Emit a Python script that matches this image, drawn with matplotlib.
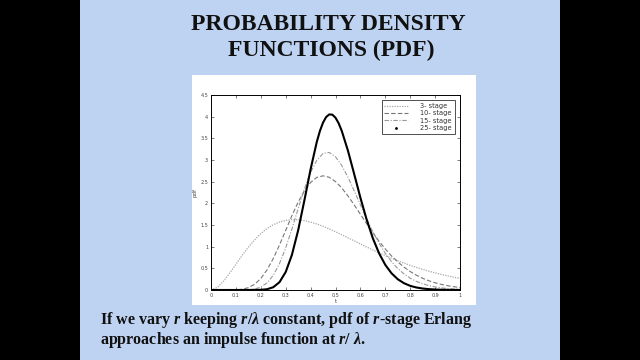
import matplotlib
matplotlib.use("Agg")
import matplotlib.pyplot as plt
from matplotlib.patches import Rectangle
from matplotlib.lines import Line2D

# ---- data (Erlang pdfs) ----
t = [0.0, 0.025, 0.05, 0.075, 0.1, 0.125, 0.15, 0.175, 0.2, 0.225, 0.25, 0.275,
     0.3, 0.325, 0.35, 0.375, 0.4, 0.425, 0.45, 0.475, 0.5, 0.525, 0.55, 0.575,
     0.6, 0.625, 0.65, 0.675, 0.7, 0.725, 0.75, 0.775, 0.8, 0.825, 0.85, 0.875,
     0.9, 0.925, 0.95, 0.975, 1.0]
stage3 = [0.0, 0.058, 0.200, 0.387, 0.593, 0.797, 0.988, 1.157, 1.301, 1.417, 1.506,
          1.568, 1.607, 1.623, 1.620, 1.601, 1.568, 1.523, 1.470, 1.410, 1.344, 1.276,
          1.205, 1.134, 1.062, 0.992, 0.924, 0.857, 0.794, 0.733, 0.675, 0.620, 0.569,
          0.521, 0.476, 0.434, 0.395, 0.359, 0.326, 0.296, 0.268]
stage10 = [0.0, 0.0, 0.00002, 0.0005, 0.0038, 0.0173, 0.054, 0.131, 0.265, 0.464,
           0.725, 1.038, 1.377, 1.716, 2.028, 2.289, 2.482, 2.599, 2.635, 2.601, 2.502,
           2.356, 2.171, 1.964, 1.747, 1.530, 1.320, 1.125, 0.947, 0.787, 0.649, 0.528,
           0.426, 0.341, 0.271, 0.213, 0.167, 0.129, 0.100, 0.076, 0.058]
stage15 = [0.0, 0.0, 0.0, 0.0, 0.0001, 0.0009, 0.0053, 0.0218, 0.067, 0.164, 0.339,
           0.608, 0.971, 1.408, 1.878, 2.330, 2.716, 2.995, 3.152, 3.174, 3.074, 2.872,
           2.606, 2.291, 1.966, 1.644, 1.344, 1.078, 0.846, 0.653, 0.496, 0.371, 0.273,
           0.198, 0.143, 0.101, 0.071, 0.049, 0.034, 0.023, 0.015]
t25 = [0.0, 0.05, 0.1, 0.15, 0.2, 0.225, 0.25, 0.275, 0.3, 0.325, 0.35, 0.375, 0.4,
       0.425, 0.4375, 0.45, 0.4625, 0.475, 0.4875, 0.5, 0.5125, 0.525, 0.55, 0.575,
       0.6, 0.625, 0.65, 0.675, 0.7, 0.725, 0.75, 0.775, 0.8, 0.825, 0.85, 0.875,
       0.9, 0.925, 0.95, 0.975, 1.0]
stage25 = [0.0, 0.0, 0.0, 0.00005, 0.0037, 0.0177, 0.064, 0.180, 0.415, 0.812, 1.377,
           2.067, 2.787, 3.421, 3.672, 3.864, 3.992, 4.052, 4.046, 3.976, 3.850, 3.674,
           3.215, 2.677, 2.130, 1.626, 1.194, 0.846, 0.580, 0.386, 0.249, 0.157, 0.096,
           0.058, 0.034, 0.020, 0.011, 0.006, 0.003, 0.0017, 0.0009]
legend_labels = ["3- stage", "10- stage", "15- stage", "25- stage"]
xticks = [0, 0.1, 0.2, 0.3, 0.4, 0.5, 0.6, 0.7, 0.8, 0.9, 1]
yticks = [0, 0.5, 1, 1.5, 2, 2.5, 3, 3.5, 4, 4.5]

plt.rcParams["mathtext.fontset"] = "custom"
plt.rcParams["mathtext.rm"] = "Liberation Serif:bold"
plt.rcParams["mathtext.it"] = "Liberation Serif:italic:bold"
plt.rcParams["mathtext.bf"] = "Liberation Serif:bold"

W, H = 640, 360
fig = plt.figure(figsize=(6.4, 3.6), dpi=100)
fig.patch.set_facecolor("#bed2f2")

def frect(x0, y0, x1, y1, color):
    fig.patches.append(Rectangle((x0 / W, 1 - y1 / H), (x1 - x0) / W, (y1 - y0) / H,
                                 transform=fig.transFigure, facecolor=color,
                                 edgecolor="none", zorder=-5))

frect(0, 0, 80, 360, "black")
frect(560, 0, 640, 360, "black")
frect(192, 75, 476, 305, "white")

# title
fig.text(328 / W, 1 - 25 / H, "PROBABILITY DENSITY", ha="center", va="center",
         fontsize=17, fontweight="bold", family="Liberation Serif", color="#111111")
fig.text(331 / W, 1 - 50 / H, "FUNCTIONS (PDF)", ha="center", va="center",
         fontsize=17, fontweight="bold", family="Liberation Serif", color="#111111")

# chart
ax = fig.add_axes([211 / W, 1 - 290 / H, (460 - 211) / W, (290 - 95) / H])
ax.set_zorder(3)
ax.set_facecolor("white")
ax.plot(t, stage3, color="#a8a8a8", lw=0.9, linestyle=(0, (1, 1)))
ax.plot(t, stage10, color="#777777", lw=0.8, linestyle=(0, (4, 2)))
ax.plot(t, stage15, color="#999999", lw=0.8, linestyle=(0, (4, 1.5, 1, 1.5)))
ax.plot(t25, stage25, color="black", lw=1.5)
ax.set_xlim(0, 1)
ax.set_ylim(0, 4.5)
ax.set_xticks(xticks)
ax.set_yticks(yticks)
ax.set_xticklabels([f"{v:g}" for v in xticks])
ax.set_yticklabels([f"{v:g}" for v in yticks])
ax.tick_params(direction="in", top=True, right=True, length=2, width=0.5,
               labelsize=3.5, colors="#444444", pad=2)
for s in ax.spines.values():
    s.set_linewidth(0.7)
ax.set_xlabel("t", fontsize=4, color="#444444", labelpad=1)
ax.set_ylabel("pdf", fontsize=4, color="#444444", labelpad=2)

handles = [Line2D([], [], color="#a8a8a8", lw=0.9, linestyle=(0, (1, 1))),
           Line2D([], [], color="#777777", lw=0.8, linestyle=(0, (4, 2))),
           Line2D([], [], color="#999999", lw=0.8, linestyle=(0, (4, 1.5, 1, 1.5))),
           Line2D([], [], color="black", marker=".", markersize=2, linestyle="none")]
leg = ax.legend(handles, legend_labels, loc="upper right", fontsize=4.8,
                frameon=True, fancybox=False, edgecolor="#333333", framealpha=1,
                handlelength=3.6, borderaxespad=0.8, labelspacing=0.2,
                handletextpad=1.8, borderpad=0.4)
leg.get_frame().set_linewidth(0.6)
for txt in leg.get_texts():
    txt.set_color("#333333")

# bottom caption
fig.text(100 / W, 1 - 320 / H,
         r"If we vary $r$ keeping $r/\lambda$ constant, pdf of $r$-stage Erlang",
         ha="left", va="center", fontsize=11.5, fontweight="bold",
         family="Liberation Serif", color="#111111")
fig.text(100 / W, 1 - 340 / H,
         r"approaches an impulse function at $r/\ \lambda$.",
         ha="left", va="center", fontsize=11.5, fontweight="bold",
         family="Liberation Serif", color="#111111")

fig.savefig("out.png", dpi=100, facecolor=fig.get_facecolor())
